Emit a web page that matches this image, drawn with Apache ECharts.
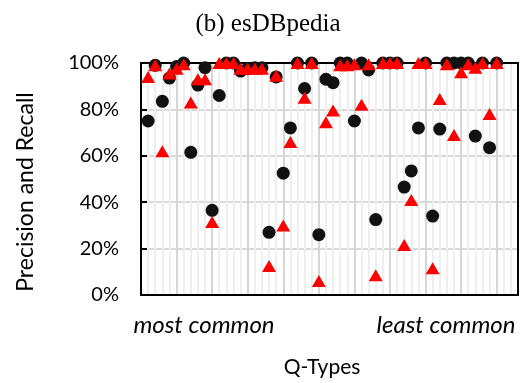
<!DOCTYPE html>
<html><head><meta charset="utf-8">
<script src="https://cdn.jsdelivr.net/npm/echarts@6/dist/echarts.min.js"></script>
<style>html,body{margin:0;padding:0;background:#fff}#c{width:524px;height:383px}</style>
</head><body><div id="c"></div>
<script>
const qTypes = [1,2,3,4,5,6,7,8,9,10,11,12,13,14,15,16,17,18,19,20,21,22,23,24,25,26,27,28,29,30,31,32,33,34,35,36,37,38,39,40,41,42,43,44,45,46,47,48,49,50];
const precision = [75,99,83.5,93.5,98.5,100,61.5,90.5,98,36.5,86,100,100,96.5,97.5,98,98,27,94,52.5,72,100,89,100,26,93,91.5,100,100,75,100,97,32.5,100,100,100,46.5,53.5,72,100,34,71.5,100,100,100,100,68.5,100,63.5,100];
const recall = [94,99,62,95.5,97.5,99.5,83,93,93,31.5,100,100,100,97.5,97.5,97.5,97.5,12.5,94.5,30,66,100,85,100,6,74.5,79.5,99,99,99.5,82,99.5,8.5,100,100,100,21.5,41,100,100,11.5,84.5,99.5,69,96,99.5,98,100,78,100];
const yTicks = [0,20,40,60,80,100];
const xMax = 53;

const chart = echarts.init(document.getElementById('c'));
const sans = 'Lato';
chart.setOption({
  animation: false,
  title: {text: '(b) esDBpedia', left: 263, top: 7, textAlign: 'center',
    textStyle: {fontFamily: 'Liberation Serif', fontSize: 25, fontWeight: 'normal', color: '#000'}},
  grid: {left: 141, right: 6, top: 63, bottom: 88},
  xAxis: [
    {type: 'value', min: 0, max: xMax, interval: 1, position: 'bottom',
     axisLine: {show: true, lineStyle: {color: '#000', width: 2}}, axisTick: {show: false}, axisLabel: {show: false},
     splitLine: {show: true, lineStyle: {color: '#efefef', width: 2}}},
    {type: 'value', min: 0, max: xMax, interval: 5, position: 'top',
     axisLine: {show: true, onZero: false, lineStyle: {color: '#000', width: 2}}, axisTick: {show: false}, axisLabel: {show: false},
     splitLine: {show: true, lineStyle: {color: '#d6d6d6', width: 2}}}
  ],
  yAxis: [
    {type: 'value', min: 0, max: 100, interval: 20,
     axisLine: {show: true, lineStyle: {color: '#000', width: 2}},
     axisTick: {show: true, inside: true, length: 6, lineStyle: {color: '#000', width: 2}},
     axisLabel: {margin: 22, formatter: v => v + '%', fontFamily: sans, fontSize: 20, color: '#000'},
     splitLine: {show: true, lineStyle: {color: '#d9d9d9', width: 2}}},
    {type: 'value', min: 0, max: 100, interval: 20, position: 'right',
     axisLine: {show: true, onZero: false, lineStyle: {color: '#000', width: 2}},
     axisTick: {show: false}, axisLabel: {show: false}, splitLine: {show: false}}
  ],
  graphic: [
    {type: 'text', x: 26, y: 192, rotation: Math.PI / 2,
     style: {text: 'Precision and Recall', font: '23px Lato', fill: '#000', align: 'center', verticalAlign: 'middle'}},
    {type: 'text', x: 204, y: 325, style: {text: 'most common', font: 'italic 24px Lato', fill: '#000', align: 'center', verticalAlign: 'middle'}},
    {type: 'text', x: 446, y: 325, style: {text: 'least common', font: 'italic 24px Lato', fill: '#000', align: 'center', verticalAlign: 'middle'}},
    {type: 'text', x: 322, y: 367, style: {text: 'Q-Types', font: '21px Lato', fill: '#000', align: 'center', verticalAlign: 'middle'}}
  ],
  series: [
    {type: 'scatter', xAxisIndex: 0, yAxisIndex: 0, clip: false, symbol: 'circle', symbolSize: 13,
     itemStyle: {color: '#111', opacity: 1}, data: qTypes.map((q, i) => [q, precision[i]])},
    {type: 'scatter', xAxisIndex: 0, yAxisIndex: 0, clip: false, symbol: 'triangle', symbolSize: [14, 12],
     itemStyle: {color: '#ff0000', opacity: 1}, data: qTypes.map((q, i) => [q, recall[i]])}
  ]
});
</script></body></html>
